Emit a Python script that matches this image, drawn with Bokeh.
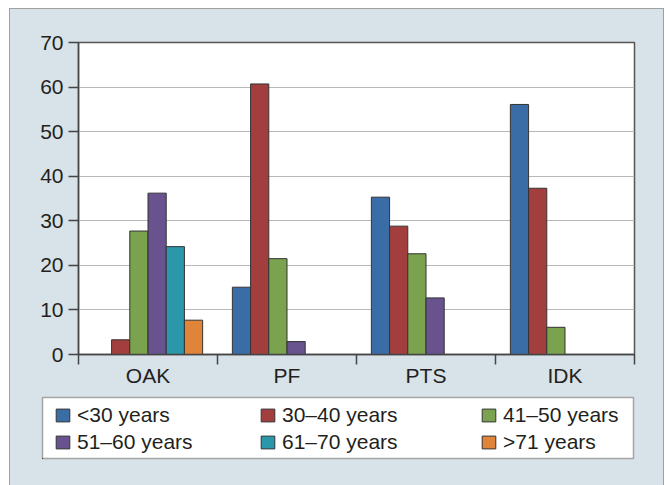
from bokeh.plotting import figure
from bokeh.layouts import column
from bokeh.models import (Range1d, FixedTicker, ColumnDataSource, Legend,
                          LegendItem)
from bokeh.transform import dodge
from bokeh.embed import file_html
from bokeh.resources import INLINE

# ---- data ----
categories = ["OAK", "PF", "PTS", "IDK"]
series_labels = ["<30 years", "30–40 years", "41–50 years",
                 "51–60 years", "61–70 years", ">71 years"]
under_30 = [0, 15.1, 35.3, 56.1]
age_30_40 = [3.3, 60.7, 28.8, 37.3]
age_41_50 = [27.7, 21.5, 22.6, 6.1]
age_51_60 = [36.2, 2.9, 12.7, 0]
age_61_70 = [24.2, 0, 0, 0]
over_71 = [7.7, 0, 0, 0]
y_ticks = [0, 10, 20, 30, 40, 50, 60, 70]

series_values = [under_30, age_30_40, age_41_50, age_51_60, age_61_70, over_71]
colors = ["#3a6da5", "#a33e3e", "#7ba34f", "#68538f", "#2a97ab", "#e0843a"]

PANEL = "#d8e2e9"
FONT = "Liberation Sans"
TXT = "#231f20"
AX = "#444444"
BAR_W = 0.131
W = 653

# ---- main chart ----
p = figure(width=W, height=386, output_backend="svg", toolbar_location=None,
           x_range=Range1d(0, len(categories)), y_range=Range1d(0, 70),
           min_border_left=68, min_border_right=29, min_border_top=33,
           min_border_bottom=41)
p.border_fill_color = PANEL
p.background_fill_color = "white"
p.outline_line_color = "#555555"
p.outline_line_width = 1.5

p.yaxis.ticker = FixedTicker(ticks=y_ticks)
p.yaxis.major_tick_out = 10
p.yaxis.major_tick_in = 0
p.yaxis.minor_tick_line_color = None
p.yaxis.axis_line_color = AX
p.yaxis.axis_line_width = 1.5
p.yaxis.major_tick_line_color = AX
p.yaxis.major_tick_line_width = 1.5
p.yaxis.major_label_text_font = FONT
p.yaxis.major_label_text_font_size = "21px"
p.yaxis.major_label_text_color = TXT
p.yaxis.major_label_standoff = 5

centres = [i + 0.5 for i in range(len(categories))]
bounds = list(range(len(categories) + 1))
p.xaxis.ticker = FixedTicker(ticks=centres, minor_ticks=bounds)
p.xaxis.major_label_overrides = {c: name for c, name in zip(centres, categories)}
p.xaxis.major_tick_line_color = None
p.xaxis.major_tick_out = 10
p.xaxis.minor_tick_out = 10
p.xaxis.minor_tick_in = 0
p.xaxis.minor_tick_line_color = AX
p.xaxis.minor_tick_line_width = 1.5
p.xaxis.axis_line_color = AX
p.xaxis.axis_line_width = 1.5
p.xaxis.major_label_text_font = FONT
p.xaxis.major_label_text_font_size = "21px"
p.xaxis.major_label_text_color = TXT
p.xaxis.major_label_standoff = -1

p.xgrid.visible = False
p.ygrid.grid_line_color = "#b8b8b8"
p.ygrid.grid_line_width = 1

sources = []
for k, (vals, color) in enumerate(zip(series_values, colors)):
    xs = [centres[i] for i, v in enumerate(vals) if v > 0]
    tops = [v for v in vals if v > 0]
    src = ColumnDataSource(dict(x=xs, top=tops))
    sources.append(src)
    p.vbar(x=dodge("x", (k - 2.5) * BAR_W, range=p.x_range), top="top",
           width=BAR_W, source=src, fill_color=color,
           line_color="#333333", line_width=1)

# ---- legend strip (its frame is the legend box) ----
pl = figure(width=W, height=90, output_backend="svg", toolbar_location=None,
            x_axis_type=None, y_axis_type=None,
            x_range=Range1d(100, 101), y_range=Range1d(100, 101),
            min_border_left=32, min_border_right=30, min_border_top=2,
            min_border_bottom=27)
pl.border_fill_color = PANEL
pl.background_fill_color = "white"
pl.outline_line_color = "#a5a5a5"
pl.outline_line_width = 1.5

# legend swatches: same bars, ranges keep them out of view
swatches = []
for src, color in zip(sources, colors):
    swatches.append(pl.vbar(x="x", top="top", width=BAR_W, source=src,
                            fill_color=color, line_color="#333333",
                            line_width=1))

col_x = [12, 217, 438]
for c in range(3):
    items = [LegendItem(label=series_labels[c], renderers=[swatches[c]]),
             LegendItem(label=series_labels[c + 3], renderers=[swatches[c + 3]])]
    leg = Legend(items=items, location=(col_x[c], 4), orientation="vertical",
                 padding=0, margin=0, spacing=3, border_line_color=None,
                 background_fill_alpha=0, glyph_width=17, glyph_height=16,
                 label_standoff=6, label_text_font=FONT,
                 label_text_font_size="21px", label_text_color=TXT)
    pl.add_layout(leg, "center")

layout = column(p, column(pl, spacing=0), spacing=0, margin=(9, 2, 0, 10))
layout.styles = {"box-shadow": "0 0 0 1px #a0a0a0", "background-color": PANEL}

open("out.html", "w").write(file_html(layout, INLINE))
